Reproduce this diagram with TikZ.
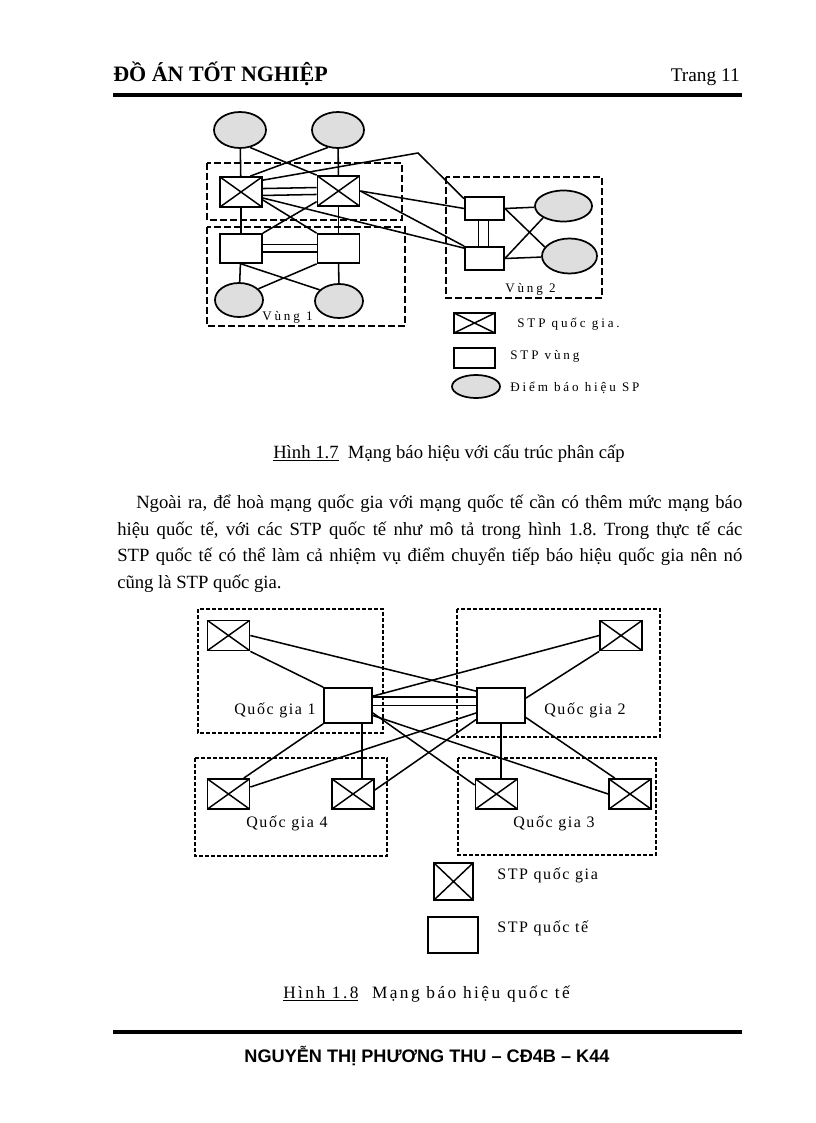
\documentclass[tikz,border=0pt]{standalone}
\usepackage{fontspec}
\setmainfont{Liberation Serif}
\newfontfamily\footfont{Liberation Sans}
\newfontfamily\figfont{Liberation Serif}[LetterSpace=22]
\newfontfamily\figfontb{Liberation Serif}[LetterSpace=10]
\newfontfamily\capfont{Liberation Serif}[LetterSpace=14]
\usetikzlibrary{shapes.geometric,calc}
\definecolor{spgray}{RGB}{222,222,222}
\frenchspacing

\begin{document}
\begin{tikzpicture}[x=0.75pt,y=-0.75pt,
  conn/.style={line width=1.15pt},
  stpqg/.style={draw,line width=1.3pt,fill=white,inner sep=0pt,
    minimum width=31.5pt,minimum height=22.5pt,
    path picture={\draw[line width=1.1pt]
      (path picture bounding box.north west) -- (path picture bounding box.south east)
      (path picture bounding box.south west) -- (path picture bounding box.north east);}},
  stpvung/.style={draw,line width=1.3pt,fill=white,inner sep=0pt,
    minimum width=31.5pt,minimum height=21.75pt},
  spoint/.style={ellipse,draw,line width=1.3pt,fill=spgray,inner sep=0pt,
    minimum width=39pt,minimum height=27pt},
  region1/.style={line width=1.3pt,dash pattern=on 5pt off 2.5pt},
  region2/.style={line width=1.1pt,dash pattern=on 3pt off 1.5pt},
  lbl/.style={anchor=base west,inner sep=0pt,font=\figfont\fontsize{9.8}{11}\selectfont},
  lblb/.style={anchor=base west,inner sep=0pt,font=\figfontb\fontsize{12}{14}\selectfont},
  body/.style={anchor=base west,inner sep=0pt,font=\fontsize{14}{20}\selectfont}]
\useasboundingbox (0,0) rectangle (816,1123);
\fill[white] (0,0) rectangle (816,1123);

% header
\node[anchor=base west,inner sep=0pt,font=\fontsize{16.5}{18}\selectfont\bfseries] (title) at (113,82) {ĐỒ ÁN TỐT NGHIỆP};
\node[anchor=base east,inner sep=0pt,font=\fontsize{14.5}{16}\selectfont] (page) at (740,82) {Trang 11};
\draw[line width=3pt] (113,95) -- (742,95);

% hinh 1.7
\draw[region1] (207,163) rectangle (402,220);
\draw[region1] (207,227) rectangle (405,326);
\draw[region1] (446,177) rectangle (602,298);

\node[spoint] (sp1a) at (240,130) {};
\node[spoint] (sp1b) at (338,130) {};
\node[stpqg] (qg1a) at (241,192) {};
\node[stpqg] (qg1b) at (338.5,191) {};
\node[stpvung] (v1a) at (241,248.5) {};
\node[stpvung] (v1b) at (338.5,248.5) {};
\node[spoint,minimum width=36pt,minimum height=25.5pt] (sp1c) at (239,300) {};
\node[spoint,minimum width=36pt,minimum height=25.5pt] (sp1d) at (339,301) {};
\node[stpvung,minimum width=29.25pt,minimum height=17.25pt] (v2a) at (484.5,208.5) {};
\node[stpvung,minimum width=29.25pt,minimum height=17.25pt] (v2b) at (484.5,258.5) {};
\node[spoint,minimum width=42.75pt,minimum height=23.25pt] (sp2a) at (563.5,206) {};
\node[spoint,minimum width=41.25pt,minimum height=26.25pt] (sp2b) at (569.5,256) {};
\coordinate (knee) at (418,153);

\draw[conn] (sp1a) -- (qg1a);
\draw[conn] (sp1a.-60) -- (qg1b.north west);
\draw[conn] (sp1b.-120) -- (qg1a.60);
\draw[conn] (sp1b) -- (qg1b);
\draw[conn] ([yshift=2.6pt]qg1a.east) -- ([yshift=2.6pt]qg1b.west);
\draw[conn] ([yshift=-2.6pt]qg1a.east) -- ([yshift=-2.6pt]qg1b.west);
\draw[conn] ([yshift=-3pt]qg1a.north east) -- (knee) -- ([yshift=-2pt]v2a.north west);
\draw[conn] (qg1b.east) -- (v2a.west);
\draw[conn] (qg1b.east) -- (v2b.north west);
\draw[conn] ([yshift=-4.5pt]qg1a.east) -- ([yshift=-1.5pt]v2b.north west);
\draw[conn] ([yshift=-6pt]qg1a.east) -- (v1b.north west);
\draw[conn] ([yshift=-8pt]qg1b.west) -- (v1a.north east);
\draw[conn] (qg1a) -- (v1a);
\draw[conn] (qg1b) -- (v1b);
\draw[conn] ([yshift=3pt]v1a.east) -- ([yshift=3pt]v1b.west);
\draw[conn] ([yshift=-2.5pt]v1a.east) -- ([yshift=-2.5pt]v1b.west);
\draw[conn] (v1a) -- (sp1c);
\draw[conn] (v1b) -- (sp1d);
\draw[conn] (v1a.south) -- (sp1d.150);
\draw[conn] (v1b.south west) -- (sp1c.30);
\draw[conn] ([xshift=-4.5pt]v2a.south) -- ([xshift=-4.5pt]v2b.north);
\draw[conn] ([xshift=3pt]v2a.south) -- ([xshift=3pt]v2b.north);
\draw[conn] (v2a.east) -- (sp2a);
\draw[conn] (v2a.east) -- (sp2b.160);
\draw[conn] (v2b.east) -- (sp2a.-150);
\draw[conn] (v2b.east) -- (sp2b);

\node[lbl] (vung1) at (262,320) {Vùng 1};
\node[lbl] (vung2) at (505,292) {Vùng 2};

% chu thich hinh 1.7
\node[stpqg,minimum width=30.75pt,minimum height=15pt] (lgqg) at (474.5,323) {};
\node[stpvung,minimum width=30.75pt,minimum height=15pt] (lgv) at (474.5,358) {};
\node[spoint,minimum width=36pt,minimum height=17.25pt] (lgsp) at (476,386.5) {};
\node[lbl] at (517,327.5) {STP quốc gia.};
\node[lbl] at (510,359) {STP vùng};
\node[lbl] at (510,391) {Điểm báo hiệu SP};

\node[anchor=base west,inner sep=0pt,font=\fontsize{14}{16}\selectfont] (cap1) at (273,458)
  {\underline{Hình 1.7}\ \ Mạng báo hiệu với cấu trúc phân cấp};

% doan van
\node[body] (l1) at (136,508) {\makebox[454.5pt][s]{Ngoài ra, để hoà mạng quốc gia với mạng quốc tế cần có thêm mức mạng báo}};
\node[body] (l2) at (117,535) {\makebox[468.75pt][s]{hiệu quốc tế, với các STP quốc tế như mô tả trong hình 1.8. Trong thực tế các}};
\node[body] (l3) at (117,561) {\makebox[468.75pt][s]{STP quốc tế có thể làm cả nhiệm vụ điểm chuyển tiếp báo hiệu quốc gia nên nó}};
\node[body] (l4) at (117,588) {cũng là STP quốc gia.};

% hinh 1.8
\draw[region2] (198,609) rectangle (383,733);
\draw[region2] (457,609) rectangle (660,737);
\draw[region2] (195,758) rectangle (387,856);
\draw[region2] (458,758) rectangle (656,855);

\begin{scope}[every node/.append style={minimum width=30pt,minimum height=27pt}]
\node[stpqg] (qgA) at (228.5,635.5) {};
\node[stpqg] (qgB) at (621,635.5) {};
\node[stpqg] (qgC) at (228.5,794) {};
\node[stpqg] (qgD) at (353,794) {};
\node[stpqg] (qgE) at (496.5,794) {};
\node[stpqg] (qgF) at (630,794) {};
\end{scope}
\node[stpvung,minimum width=36pt,minimum height=26.25pt] (qt1) at (348,705.5) {};
\node[stpvung,minimum width=36pt,minimum height=26.25pt] (qt2) at (501,705.5) {};

\draw[conn] (qgA.east) -- ([yshift=-3pt]qt2.north west);
\draw[conn] (qgA.south east) -- (qt1.north west);
\draw[conn] (qgB.west) -- ([yshift=-6.75pt]qt1.north east);
\draw[conn] (qgB.south west) -- ([yshift=-8.25pt]qt2.north east);
\draw[conn] ([yshift=6.2pt]qt1.east) -- ([yshift=6.2pt]qt2.west);
\draw[conn] (qt1.east) -- (qt2.west);
\draw[conn] ([xshift=10.5pt]qt1.south) -- ([xshift=10.5pt]qt1.south |- qgD.north);
\draw[conn] (qt2.south) -- (qt2.south |- qgE.north);
\draw[conn] (qt1.south west) -- ([xshift=-5pt]qgC.north east);
\draw[conn] ([yshift=-5.6pt]qt1.east) -- ([yshift=6.75pt]qgE.west);
\draw[conn] ([yshift=-7.5pt]qt1.east) -- (qgF.west);
\draw[conn] ([yshift=-5.6pt]qt2.west) -- ([yshift=5.25pt]qgC.east);
\draw[conn] ([yshift=-10.5pt]qt2.west) -- ([yshift=3pt]qgD.east);
\draw[conn] ([yshift=-9pt]qt2.east) -- ([xshift=5pt]qgF.north west);

\node[lblb] (qgl1) at (234,714) {Quốc gia 1};
\node[lblb] (qgl2) at (544,714) {Quốc gia 2};
\node[lblb] (qgl4) at (246,827) {Quốc gia 4};
\node[lblb] (qgl3) at (513,827) {Quốc gia 3};

% chu thich hinh 1.8
\node[stpqg,minimum width=29.25pt,minimum height=27.75pt] (lgqg2) at (453.5,881.5) {};
\node[stpvung,minimum width=37.5pt,minimum height=27pt] (lgqt) at (453,935) {};
\node[lblb] at (497,879) {STP quốc gia};
\node[lblb] at (497,932) {STP quốc tế};

\node[anchor=base west,inner sep=0pt,font=\capfont\fontsize{13}{15}\selectfont] (cap2) at (283,998)
  {\underline{Hình 1.8}\ \ Mạng báo hiệu quốc tế};

% footer
\draw[line width=3pt] (113,1032) -- (742,1032);
\node[anchor=base,inner sep=0pt,font=\footfont\bfseries\fontsize{13.6}{15}\selectfont] (foot) at (427,1062)
  {NGUYỄN THỊ PHƯƠNG THU – CĐ4B – K44};
\end{tikzpicture}
\end{document}
